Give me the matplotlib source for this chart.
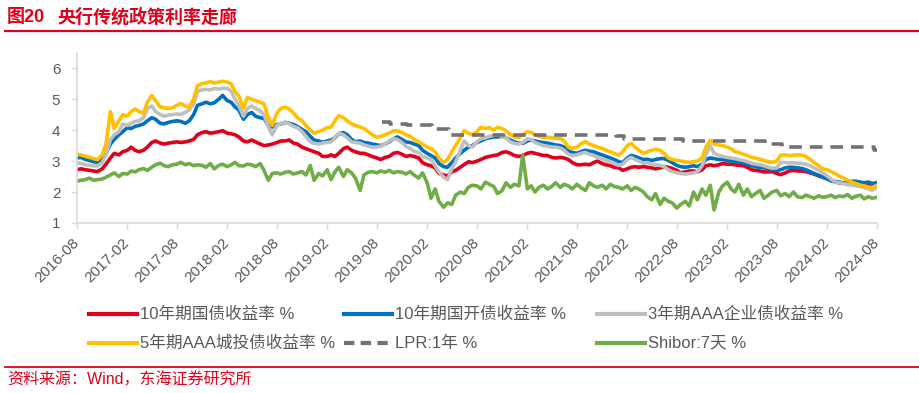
import matplotlib
matplotlib.use('Agg')
import matplotlib.pyplot as plt
import matplotlib.dates as mdates
from matplotlib.lines import Line2D
import pandas as pd

plt.rcParams['font.family'] = ['Liberation Sans', 'Noto Sans CJK SC']

# 半月频数据 2016-08-01 ~ 2024-08-01
dates = pd.date_range('2016-08-01', '2024-08-01', freq='SMS')

cgb10 = [
    2.72, 2.75, 2.72, 2.70, 2.68, 2.66, 2.75, 2.90, 3.10, 3.25, 3.20, 3.30, 3.35, 3.45, 3.35, 3.30, 3.35, 3.45, 3.60, 3.65, 3.58, 3.55, 3.58, 3.60,
    3.62, 3.60, 3.62, 3.65, 3.70, 3.85, 3.92, 3.95, 3.90, 3.92, 3.95, 3.98, 3.90, 3.88, 3.85, 3.78, 3.65, 3.62, 3.68, 3.62, 3.55, 3.50, 3.52, 3.55,
    3.60, 3.65, 3.65, 3.68, 3.58, 3.55, 3.45, 3.40, 3.35, 3.30, 3.25, 3.15, 3.15, 3.20, 3.15, 3.25, 3.40, 3.45, 3.35, 3.30, 3.25, 3.25, 3.20, 3.15,
    3.10, 3.05, 3.12, 3.15, 3.25, 3.28, 3.22, 3.15, 3.18, 3.15, 3.10, 2.95, 2.88, 2.85, 2.78, 2.60, 2.55, 2.52, 2.65, 2.70, 2.80, 2.88, 2.98, 2.95,
    3.00, 3.05, 3.12, 3.15, 3.18, 3.20, 3.28, 3.30, 3.25, 3.18, 3.15, 3.18, 3.25, 3.28, 3.25, 3.22, 3.18, 3.18, 3.12, 3.10, 3.12, 3.10, 3.05, 2.95,
    2.88, 2.88, 2.90, 2.88, 2.95, 3.00, 2.92, 2.88, 2.85, 2.80, 2.78, 2.70, 2.75, 2.80, 2.82, 2.80, 2.82, 2.80, 2.78, 2.75, 2.78, 2.82, 2.80, 2.76,
    2.70, 2.62, 2.65, 2.68, 2.68, 2.65, 2.72, 2.85, 2.88, 2.85, 2.88, 2.92, 2.90, 2.90, 2.88, 2.86, 2.85, 2.80, 2.72, 2.70, 2.68, 2.65, 2.65, 2.66,
    2.60, 2.56, 2.62, 2.68, 2.70, 2.68, 2.68, 2.66, 2.62, 2.58, 2.52, 2.48, 2.45, 2.38, 2.32, 2.30, 2.28, 2.25, 2.30, 2.32, 2.28, 2.25, 2.22, 2.15,
    2.18,
]

cdb10 = [
    3.10, 3.12, 3.05, 3.02, 2.98, 2.96, 3.05, 3.25, 3.55, 3.70, 3.85, 3.95, 4.08, 4.05, 4.12, 4.15, 4.20, 4.30, 4.40, 4.35, 4.22, 4.20, 4.25, 4.28,
    4.30, 4.28, 4.22, 4.30, 4.50, 4.80, 4.85, 4.90, 4.85, 4.88, 5.00, 5.12, 4.95, 4.90, 4.75, 4.65, 4.35, 4.50, 4.57, 4.45, 4.40, 4.38, 4.15, 4.10,
    4.18, 4.20, 4.25, 4.22, 4.18, 4.12, 4.02, 3.95, 3.80, 3.68, 3.65, 3.60, 3.65, 3.68, 3.75, 3.88, 3.92, 3.85, 3.70, 3.62, 3.65, 3.60, 3.58, 3.55,
    3.52, 3.50, 3.55, 3.62, 3.72, 3.78, 3.70, 3.62, 3.60, 3.55, 3.50, 3.35, 3.25, 3.18, 3.10, 2.92, 2.82, 2.80, 2.95, 3.10, 3.25, 3.35, 3.45, 3.50,
    3.60, 3.65, 3.72, 3.75, 3.78, 3.78, 3.80, 3.75, 3.68, 3.62, 3.58, 3.57, 3.65, 3.68, 3.65, 3.62, 3.60, 3.58, 3.55, 3.52, 3.50, 3.45, 3.32, 3.28,
    3.25, 3.30, 3.35, 3.32, 3.30, 3.25, 3.20, 3.15, 3.10, 3.05, 2.98, 2.95, 3.10, 3.18, 3.15, 3.10, 3.05, 3.06, 3.02, 3.05, 3.08, 3.08, 3.02, 2.95,
    2.86, 2.82, 2.80, 2.82, 2.85, 2.82, 2.90, 3.05, 3.10, 3.08, 3.05, 3.05, 3.02, 3.00, 2.98, 2.96, 2.95, 2.90, 2.85, 2.82, 2.80, 2.78, 2.76, 2.72,
    2.70, 2.72, 2.78, 2.80, 2.80, 2.78, 2.76, 2.72, 2.66, 2.60, 2.54, 2.48, 2.42, 2.36, 2.34, 2.32, 2.30, 2.30, 2.35, 2.35, 2.32, 2.30, 2.32, 2.28,
    2.30,
]

corp3 = [
    2.95, 2.92, 2.88, 2.86, 2.85, 2.84, 2.95, 3.20, 3.70, 3.85, 3.95, 4.20, 4.15, 4.22, 4.28, 4.30, 4.40, 4.70, 4.78, 4.60, 4.50, 4.45, 4.48, 4.50,
    4.52, 4.50, 4.58, 4.65, 4.85, 5.25, 5.30, 5.32, 5.30, 5.35, 5.32, 5.35, 5.35, 5.25, 5.00, 4.80, 4.45, 4.70, 4.78, 4.70, 4.62, 4.50, 4.10, 3.85,
    4.15, 4.22, 4.25, 4.20, 4.12, 4.08, 3.95, 3.80, 3.62, 3.57, 3.55, 3.58, 3.60, 3.62, 3.75, 3.90, 3.85, 3.75, 3.62, 3.60, 3.58, 3.52, 3.48, 3.45,
    3.45, 3.48, 3.55, 3.65, 3.72, 3.70, 3.60, 3.48, 3.40, 3.32, 3.28, 3.15, 3.10, 3.05, 2.85, 2.65, 2.48, 2.40, 2.75, 2.97, 3.35, 3.65, 3.50, 3.45,
    3.62, 3.72, 3.75, 3.80, 3.83, 3.85, 3.80, 3.75, 3.62, 3.57, 3.55, 3.60, 3.72, 3.70, 3.60, 3.55, 3.50, 3.48, 3.45, 3.45, 3.42, 3.35, 3.22, 3.18,
    3.20, 3.25, 3.28, 3.22, 3.18, 3.12, 3.08, 3.02, 2.98, 2.92, 2.86, 2.90, 3.05, 3.12, 3.05, 3.00, 2.93, 2.95, 2.90, 2.88, 2.86, 2.82, 2.72, 2.66,
    2.62, 2.60, 2.58, 2.60, 2.62, 2.65, 2.85, 3.20, 3.50, 3.25, 3.19, 3.15, 3.12, 3.10, 3.08, 3.05, 3.02, 2.98, 2.93, 2.90, 2.88, 2.85, 2.80, 2.77,
    2.78, 2.96, 2.95, 2.94, 2.95, 2.93, 2.92, 2.90, 2.85, 2.78, 2.70, 2.62, 2.52, 2.42, 2.32, 2.30, 2.28, 2.24, 2.22, 2.20, 2.18, 2.15, 2.10, 2.06,
    2.14,
]

lgfv5 = [
    3.22, 3.20, 3.15, 3.12, 3.08, 3.05, 3.20, 3.55, 4.60, 4.05, 4.30, 4.50, 4.45, 4.60, 4.68, 4.60, 4.55, 4.90, 5.12, 4.95, 4.75, 4.72, 4.70, 4.72,
    4.80, 4.86, 4.78, 4.74, 5.00, 5.44, 5.50, 5.52, 5.57, 5.52, 5.55, 5.58, 5.55, 5.50, 5.25, 5.10, 4.70, 5.05, 5.00, 4.95, 4.90, 4.85, 4.40, 4.15,
    4.55, 4.70, 4.74, 4.68, 4.55, 4.40, 4.30, 4.15, 4.00, 3.90, 3.95, 4.00, 4.08, 4.10, 4.30, 4.47, 4.40, 4.30, 4.20, 4.15, 4.10, 4.05, 3.95, 3.85,
    3.77, 3.80, 3.85, 3.90, 3.98, 3.98, 3.92, 3.85, 3.80, 3.70, 3.62, 3.55, 3.45, 3.40, 3.30, 3.10, 2.96, 3.05, 3.30, 3.50, 3.75, 3.98, 3.90, 3.85,
    3.95, 4.09, 4.05, 4.08, 4.00, 4.09, 4.05, 3.98, 3.85, 3.78, 3.76, 3.85, 3.95, 3.92, 3.85, 3.80, 3.76, 3.78, 3.75, 3.74, 3.73, 3.65, 3.45, 3.41,
    3.45, 3.55, 3.63, 3.55, 3.50, 3.45, 3.41, 3.35, 3.30, 3.25, 3.19, 3.30, 3.50, 3.57, 3.45, 3.35, 3.25, 3.30, 3.35, 3.38, 3.35, 3.25, 3.10, 3.05,
    3.03, 3.00, 2.98, 2.96, 2.98, 3.00, 3.10, 3.45, 3.67, 3.55, 3.52, 3.50, 3.45, 3.40, 3.30, 3.28, 3.22, 3.18, 3.12, 3.10, 3.05, 3.02, 2.98, 2.96,
    3.00, 3.19, 3.20, 3.18, 3.19, 3.20, 3.19, 3.15, 3.05, 2.95, 2.85, 2.75, 2.72, 2.66, 2.60, 2.52, 2.45, 2.38, 2.32, 2.28, 2.22, 2.20, 2.16, 2.14,
    2.22,
]

shibor7d = [
    2.35, 2.38, 2.40, 2.45, 2.38, 2.40, 2.42, 2.48, 2.55, 2.62, 2.50, 2.60, 2.58, 2.68, 2.65, 2.72, 2.76, 2.70, 2.80, 2.88, 2.93, 2.85, 2.82, 2.88,
    2.90, 2.96, 2.88, 2.92, 2.85, 2.88, 2.86, 2.80, 2.92, 2.75, 2.86, 2.90, 2.82, 2.88, 2.96, 2.85, 2.84, 2.90, 2.88, 2.82, 2.92, 2.70, 2.38, 2.60,
    2.62, 2.58, 2.64, 2.66, 2.58, 2.62, 2.66, 2.55, 2.86, 2.38, 2.60, 2.52, 2.72, 2.40, 2.65, 2.80, 2.50, 2.72, 2.62, 2.45, 2.05, 2.55, 2.64, 2.66,
    2.62, 2.68, 2.64, 2.70, 2.62, 2.66, 2.64, 2.58, 2.66, 2.55, 2.45, 2.62, 2.30, 1.80, 2.10, 1.70, 1.51, 1.65, 1.60, 1.90, 2.00, 1.95, 2.16, 2.22,
    2.20, 2.10, 2.32, 2.25, 2.18, 1.95, 2.05, 2.30, 2.15, 2.25, 2.20, 3.19, 2.10, 2.20, 2.00, 2.15, 2.22, 2.10, 2.18, 2.30, 2.15, 2.25, 2.20, 2.10,
    2.25, 2.15, 2.05, 2.30, 2.20, 2.15, 2.22, 2.10, 2.25, 2.18, 2.15, 2.10, 2.20, 2.05, 2.15, 2.10, 2.00, 1.85, 1.75, 1.95, 1.60, 1.80, 1.70, 1.65,
    1.48, 1.60, 1.70, 1.55, 2.00, 1.75, 2.10, 1.90, 2.22, 1.42, 2.00, 2.20, 2.32, 2.10, 2.00, 2.25, 1.90, 2.10, 1.85, 1.95, 2.05, 1.80, 1.90, 2.00,
    2.05, 1.88, 1.95, 1.85, 2.00, 1.85, 1.82, 1.90, 1.85, 1.80, 1.88, 1.83, 1.85, 1.90, 1.82, 1.87, 1.85, 1.92, 1.80, 1.86, 1.90, 1.78, 1.85, 1.80,
    1.83,
]

# LPR 1年 调整日期
lpr_dates = pd.to_datetime(['2019-08-20', '2019-09-20', '2019-11-20', '2020-02-20', '2020-04-20',
                            '2021-12-20', '2022-01-20', '2022-08-22', '2023-06-20', '2023-08-21',
                            '2024-07-22', '2024-08-01'])
lpr_vals = [4.25, 4.20, 4.15, 4.05, 3.85, 3.80, 3.70, 3.65, 3.55, 3.45, 3.35, 3.35]

labels = ['10年期国债收益率 %', '10年期国开债收益率 %', '3年期AAA企业债收益率 %',
          '5年期AAA城投债收益率 %', 'LPR:1年 %', 'Shibor:7天 %']
colors = ['#E0001B', '#0070C0', '#BFBFBF', '#FFC000', '#767171', '#70AD47']

W, H = 919, 393
RED = '#E0001B'
TXT = '#595959'
LW = 2.6

fig = plt.figure(figsize=(W / 100, H / 100), dpi=100)
fig.patch.set_facecolor('white')

ax = fig.add_axes([77 / W, 1 - 223 / H, (877 - 77) / W, (223 - 52.7) / H])

ax.plot(dates, cgb10, color=colors[0], lw=LW)
ax.plot(dates, cdb10, color=colors[1], lw=LW)
ax.plot(dates, corp3, color=colors[2], lw=LW)
ax.plot(dates, lgfv5, color=colors[3], lw=LW)
ax.plot(lpr_dates, lpr_vals, color=colors[4], lw=LW, dashes=(3.5, 2.2), drawstyle='steps-post')
ax.plot(dates, shibor7d, color=colors[5], lw=LW)

ax.set_xlim(pd.Timestamp('2016-08-01'), pd.Timestamp('2024-08-01'))
ax.set_ylim(1, 6.5)
ax.set_yticks([1, 2, 3, 4, 5, 6])
ax.xaxis.set_major_locator(mdates.MonthLocator(bymonth=(2, 8)))
ax.xaxis.set_major_formatter(mdates.DateFormatter('%Y-%m'))

for s in ['top', 'right']:
    ax.spines[s].set_visible(False)
for s in ['left', 'bottom']:
    ax.spines[s].set_color('#D9D9D9')
    ax.spines[s].set_linewidth(1.2)

ax.tick_params(axis='both', colors='#D9D9D9', labelcolor=TXT, labelsize=11, length=4, width=1)
ax.tick_params(axis='y', pad=8)
for lab in ax.get_xticklabels():
    lab.set_rotation(45)
    lab.set_ha('right')
    lab.set_va('center')
    lab.set_rotation_mode('anchor')
ax.tick_params(axis='x', pad=9)

# 标题
fig.text(7 / W, 1 - 17 / H, '图20', color=RED, fontsize=13, fontweight='bold', va='center')
fig.text(57 / W, 1 - 17 / H, '央行传统政策利率走廊', color=RED, fontsize=13, fontweight='bold', va='center')
fig.add_artist(Line2D([5 / W, 1], [1 - 30.5 / H] * 2, transform=fig.transFigure, color=RED, lw=1.6))

# 图例
col_x = [89, 344, 597]
row_y = [314, 343]
for i, (lab, c) in enumerate(zip(labels, colors)):
    x0 = col_x[i % 3]
    y0 = 1 - row_y[i // 3] / H
    kw = dict(dashes=(2.5, 1.5)) if i == 4 else {}
    fig.add_artist(Line2D([x0 / W, (x0 + 48) / W], [y0, y0], transform=fig.transFigure,
                          color=c, lw=3, **kw))
    fig.text((x0 + 51) / W, y0, lab, color=TXT, fontsize=12, va='center')

# 底部来源
fig.add_artist(Line2D([5 / W, 1], [1 - 367 / H] * 2, transform=fig.transFigure, color=RED, lw=1.3))
fig.text(7 / W, 1 - 380 / H, '资料来源：Wind，东海证券研究所', color=RED, fontsize=11.5, va='center')

fig.savefig('out.png', dpi=100)
